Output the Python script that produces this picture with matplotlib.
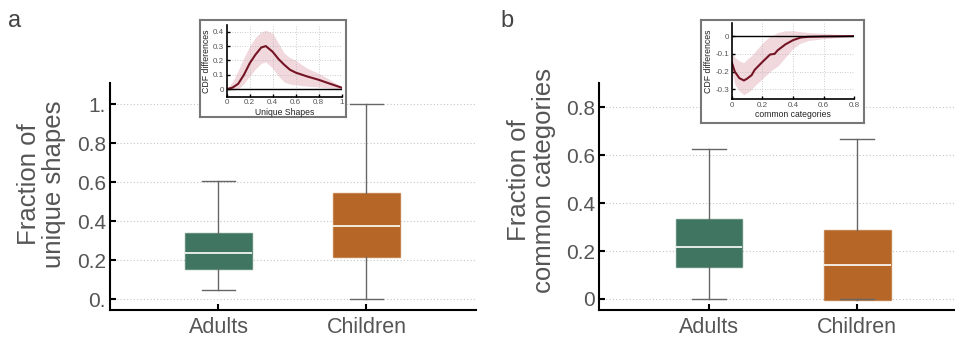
import numpy as np
import matplotlib
matplotlib.use("Agg")
import matplotlib.pyplot as plt

plt.rcParams['font.family'] = ['Liberation Sans', 'DejaVu Sans']

W, H = 955, 337

groups = ['Adults', 'Children']
box_colors = ['#3f7561', '#b66626']

# box stats: whislo, q1, med, q3, whishi
shapes_stats = [[0.05, 0.153, 0.235, 0.339, 0.607],
                [0.0, 0.215, 0.376, 0.545, 1.0]]
cats_stats = [[0.0, 0.133, 0.216, 0.335, 0.626],
              [-0.002, -0.003, 0.142, 0.287, 0.668]]

shapes_ticks = [0, 0.2, 0.4, 0.6, 0.8, 1.0]
shapes_ticklabels = ['0.', '0.2', '0.4', '0.6', '0.8', '1.']
cats_ticks = [0, 0.2, 0.4, 0.6, 0.8]
cats_ticklabels = ['0', '0.2', '0.4', '0.6', '0.8']

# inset curves (CDF differences)
ua_x = [0, 0.05, 0.1, 0.15, 0.2, 0.25, 0.3, 0.34, 0.4, 0.45, 0.5, 0.55, 0.6, 0.7, 0.8, 0.9, 1.0]
ua_mean = [0.0, 0.01, 0.037, 0.1, 0.18, 0.24, 0.29, 0.30, 0.26, 0.21, 0.17, 0.135, 0.115, 0.088, 0.065, 0.037, 0.01]
ua_hi = [0.0, 0.05, 0.13, 0.22, 0.30, 0.36, 0.40, 0.41, 0.39, 0.32, 0.25, 0.22, 0.20, 0.145, 0.11, 0.065, 0.015]
ua_lo = [-0.01, -0.01, 0.0, 0.04, 0.09, 0.14, 0.18, 0.19, 0.145, 0.09, 0.05, 0.035, 0.03, 0.02, 0.015, 0.007, 0.0]

cb_x = [0, 0.02, 0.05, 0.08, 0.1, 0.13, 0.15, 0.2, 0.25, 0.28, 0.3, 0.35, 0.4, 0.45, 0.5, 0.6, 0.7, 0.8]
cb_mean = [-0.146, -0.2, -0.237, -0.25, -0.24, -0.22, -0.19, -0.146, -0.104, -0.1, -0.08, -0.047, -0.023,
           -0.008, -0.004, -0.002, -0.001, 0.0]
cb_hi = [-0.09, -0.12, -0.14, -0.15, -0.13, -0.11, -0.09, -0.04, 0.0, 0.01, 0.02, 0.03, 0.03, 0.025, 0.02,
         0.015, 0.01, 0.0]
cb_lo = [-0.2, -0.27, -0.31, -0.33, -0.32, -0.3, -0.28, -0.24, -0.2, -0.18, -0.17, -0.12, -0.07, -0.04,
         -0.025, -0.015, -0.008, 0.0]

fig = plt.figure(figsize=(W / 100, H / 100), dpi=100)


def px_axes(x0, y0, x1, y1, **kw):
    return fig.add_axes([x0 / W, 1 - y1 / H, (x1 - x0) / W, (y1 - y0) / H], **kw)


def box_panel(ax, stats, ticks, ticklabels, ylim, xlim, ylabel, label_xy):
    bx = []
    for s, g in zip(stats, groups):
        bx.append(dict(whislo=s[0], q1=s[1], med=s[2], q3=s[3], whishi=s[4], fliers=[], label=g))
    res = ax.bxp(bx, positions=[1, 2], widths=0.45, patch_artist=True, showfliers=False,
                 boxprops=dict(linewidth=1.0),
                 medianprops=dict(color='white', linewidth=1.2),
                 whiskerprops=dict(color='#666666', linewidth=1.0),
                 capprops=dict(color='#666666', linewidth=1.0), capwidths=0.225)
    for patch, c in zip(res['boxes'], box_colors):
        patch.set_facecolor(c)
        patch.set_edgecolor(matplotlib.colors.to_rgba(c, 0.6))
    ax.set_xlim(*xlim)
    ax.set_ylim(*ylim)
    ax.set_yticks(ticks)
    ax.set_yticklabels(ticklabels)
    ax.yaxis.grid(True, linestyle=(0, (1, 2)), color='#c4c4c4', linewidth=0.8)
    ax.set_axisbelow(True)
    for sp in ['top', 'right']:
        ax.spines[sp].set_visible(False)
    for sp in ['left', 'bottom']:
        ax.spines[sp].set_linewidth(1.5)
    ax.tick_params(direction='in', length=4, width=1.5, labelcolor='#555555')
    ax.tick_params(axis='y', labelsize=15, pad=3)
    ax.tick_params(axis='x', labelsize=15.5, pad=5)
    ax.set_ylabel(ylabel, fontsize=18.5, color='#555555', linespacing=1.08)
    ax.yaxis.set_label_coords(*label_xy)


def inset(frame_box, inner_box, x, mean, lo, hi, xlim, ylim, xticks, xticklabels, yticks, yticklabels, xlabel):
    fr = px_axes(*frame_box)
    fr.set_xticks([])
    fr.set_yticks([])
    fr.set_facecolor('white')
    for sp in fr.spines.values():
        sp.set_color('#777777')
        sp.set_linewidth(1.5)
    ia = px_axes(*inner_box)
    ia.set_facecolor('none')
    ia.fill_between(x, lo, hi, color='#f1d8dd', linewidth=0)
    ia.plot(x, mean, color='#741424', linewidth=1.5)
    ia.axhline(0, color='black', linewidth=1.0)
    ia.set_xlim(*xlim)
    ia.set_ylim(*ylim)
    ia.set_xticks(xticks)
    ia.set_xticklabels(xticklabels)
    ia.set_yticks(yticks)
    ia.set_yticklabels(yticklabels)
    ia.grid(True, linestyle=(0, (1, 2)), color='#bbbbbb', linewidth=0.6)
    for sp in ['top', 'right']:
        ia.spines[sp].set_visible(False)
    for sp in ['left', 'bottom']:
        ia.spines[sp].set_linewidth(1.2)
    ia.tick_params(direction='in', length=2, width=1.0, labelsize=5.8, labelcolor='#555555', pad=2)
    ia.set_xlabel(xlabel, fontsize=6.2, labelpad=1, color='#222222')
    ia.set_ylabel('CDF differences', fontsize=6.3, labelpad=1.5, color='#222222')
    return ia


ax_a = px_axes(110, 83, 476, 310)
box_panel(ax_a, shapes_stats, shapes_ticks, shapes_ticklabels, (-0.055, 1.11), (0.267, 2.74),
          'Fraction of\nunique shapes', (-0.12, 0.555))

ax_b = px_axes(599, 83, 955, 310)
box_panel(ax_b, cats_stats, cats_ticks, cats_ticklabels, (-0.046, 0.902), (0.259, 2.66),
          'Fraction of\ncommon categories', (-0.12, 0.57))

inset((200, 20, 346, 117), (226.7, 25, 341.7, 96.7), ua_x, ua_mean, ua_lo, ua_hi,
      (0, 1), (-0.053, 0.447), [0, 0.2, 0.4, 0.6, 0.8, 1.0], ['0', '0.2', '0.4', '0.6', '0.8', '1'],
      [0, 0.1, 0.2, 0.3, 0.4], ['0', '0.1', '0.2', '0.3', '0.4'], 'Unique Shapes')

inset((701, 20, 864, 123), (731.7, 23.3, 854.3, 99.3), cb_x, cb_mean, cb_lo, cb_hi,
      (0, 0.8), (-0.356, 0.072), [0, 0.2, 0.4, 0.6, 0.8], ['0', '0.2', '0.4', '0.6', '0.8'],
      [-0.3, -0.2, -0.1, 0], ['-0.3', '-0.2', '-0.1', '0'], 'common categories')

fig.text(8 / W, 1 - 27 / H, 'a', fontsize=17, color='#444444')
fig.text(500 / W, 1 - 27 / H, 'b', fontsize=17, color='#444444')

fig.savefig('out.png', dpi=100)
